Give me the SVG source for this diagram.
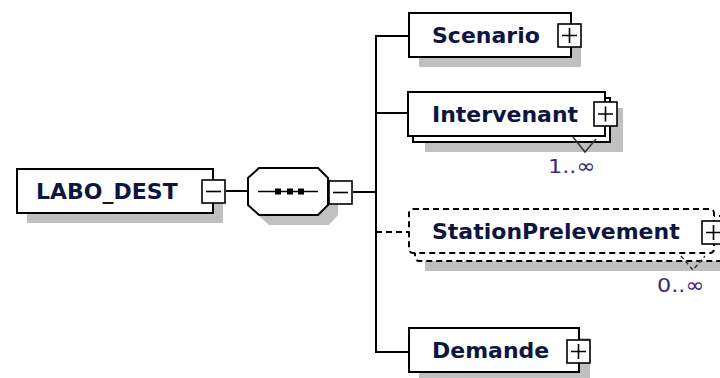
<svg xmlns="http://www.w3.org/2000/svg" width="720" height="378" viewBox="0 0 720 378">
<defs>
<style>
.shadow{fill:#c0c0c0;stroke:none}
.box{fill:#fff;stroke:#000;stroke-width:2}
.opt{fill:#fff;stroke:#000;stroke-width:2;stroke-dasharray:6 4}
.btn{fill:#fff;stroke:#000;stroke-width:1.6}
.sign{stroke:#000;stroke-width:1.6;fill:none}
.conn{stroke:#000;stroke-width:2;fill:none}
.name{font-family:"DejaVu Sans",sans-serif;font-weight:bold;font-size:22px;fill:#0d1640}
.card{font-family:"DejaVu Sans",sans-serif;font-size:20px;fill:#3a2a7a}
.rep{fill:none;stroke:#333;stroke-width:1.5}
</style>
</defs>
<rect width="720" height="378" fill="#fff"/>
<g id="connectors">
<line class="conn" x1="226" y1="191" x2="248" y2="191"/>
<line class="conn" x1="353" y1="192" x2="376" y2="192"/>
<polyline class="conn" points="409,36 376,36 376,352 409,352"/>
<line class="conn" x1="376" y1="113" x2="409" y2="113"/>
<line class="conn" x1="376" y1="232" x2="409" y2="232" stroke-dasharray="6 4"/>
</g>
<g id="LABO_DEST">
<rect class="shadow" x="27" y="179" width="196" height="44"/>
<rect class="box" x="17" y="169" width="196" height="44"/>
<text class="name" x="36" y="199">LABO_DEST</text>
<rect class="btn" x="202" y="180" width="23" height="23"/>
<line class="sign" x1="206" y1="191.5" x2="221" y2="191.5"/>
</g>
<g id="sequence">
<path class="shadow" d="M269,178 L329,178 L338,188 L338,215 L329,225 L269,225 L258,215 L258,188 Z"/>
<path class="box" d="M259,168 L318,168 L328,178 L328,205 L318,215 L259,215 L248,205 L248,178 Z"/>
<line x1="258" y1="191.5" x2="318" y2="191.5" stroke="#000" stroke-width="1.6"/>
<rect x="275" y="188.5" width="6" height="6" fill="#000"/>
<rect x="287" y="188.5" width="6" height="6" fill="#000"/>
<rect x="298" y="188.5" width="6" height="6" fill="#000"/>
<rect class="btn" x="329" y="181" width="23" height="23"/>
<line class="sign" x1="333" y1="192.5" x2="348" y2="192.5"/>
</g>
<g id="Scenario">
<rect class="shadow" x="419" y="23" width="162" height="44"/>
<rect class="box" x="409" y="13" width="162" height="44"/>
<text class="name" x="432" y="43">Scenario</text>
<rect class="btn" x="558" y="24" width="23" height="23"/>
<path class="sign" d="M562,35.5 H577 M569.5,28 V43"/>
</g>
<g id="Intervenant">
<rect class="shadow" x="425" y="108" width="198" height="44"/>
<rect class="box" x="413" y="98" width="197" height="44"/>
<rect class="box" x="408" y="92" width="197" height="44"/>
<text class="name" x="432" y="122">Intervenant</text>
<rect class="btn" x="594" y="102" width="23" height="24"/>
<path class="sign" d="M598,114 H613 M605.5,106.5 V121.5"/>
<polyline class="rep" points="573,137 585,152 596,139"/>
<text class="card" x="548" y="173" textLength="47" lengthAdjust="spacingAndGlyphs">1..∞</text>
</g>
<g id="StationPrelevement">
<rect class="shadow" x="425" y="225" width="310" height="46"/>
<rect class="opt" x="415" y="216" width="310" height="45" rx="4"/>
<rect class="opt" x="409" y="209" width="305" height="44" rx="4"/>
<text class="name" x="432" y="239">StationPrelevement</text>
<rect class="btn" x="702" y="221" width="23" height="23"/>
<path class="sign" d="M706,232.5 H721 M713.5,225 V240"/>
<polyline class="rep" points="681,256 693,270 705,256" stroke-dasharray="4 3"/>
<text class="card" x="657" y="292" textLength="47" lengthAdjust="spacingAndGlyphs">0..∞</text>
</g>
<g id="Demande">
<rect class="shadow" x="419" y="338" width="171" height="44"/>
<rect class="box" x="409" y="328" width="170" height="44"/>
<text class="name" x="432" y="358">Demande</text>
<rect class="btn" x="567" y="340" width="23" height="23"/>
<path class="sign" d="M571,351.5 H586 M578.5,344 V359"/>
</g>
</svg>
